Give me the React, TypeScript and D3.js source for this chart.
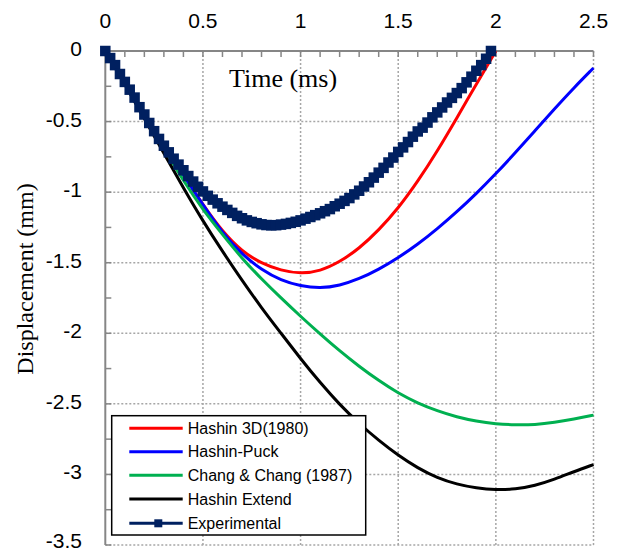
import React from "react";
import * as d3 from "d3";

// ---------- data ----------
const xTicks = [0, 0.5, 1, 1.5, 2, 2.5];
const yTicks = [0, -0.5, -1, -1.5, -2, -2.5, -3, -3.5];

const seriesNames = ["Hashin 3D(1980)", "Hashin-Puck", "Chang & Chang (1987)", "Hashin Extend", "Experimental"];

const modelTime = [0, 0.1, 0.2, 0.3, 0.4, 0.5, 0.6, 0.7, 0.8, 0.9, 1.0, 1.1, 1.2, 1.3, 1.4, 1.5, 1.6, 1.7, 1.8, 1.9, 2.0, 2.1, 2.2, 2.3, 2.4, 2.5];

const hashin3D = [0, -0.22, -0.45, -0.67, -0.88, -1.09, -1.28, -1.42, -1.505, -1.555, -1.578, -1.56, -1.495, -1.4, -1.27, -1.115, -0.925, -0.71, -0.475, -0.235, 0];
const hashinPuck = [0, -0.22, -0.45, -0.67, -0.88, -1.09, -1.29, -1.44, -1.55, -1.625, -1.665, -1.682, -1.662, -1.615, -1.548, -1.465, -1.37, -1.26, -1.14, -1.01, -0.87, -0.72, -0.565, -0.41, -0.26, -0.12];
const changChang = [0, -0.22, -0.455, -0.69, -0.92, -1.125, -1.3, -1.47, -1.615, -1.75, -1.88, -2.005, -2.125, -2.235, -2.335, -2.425, -2.495, -2.55, -2.593, -2.623, -2.642, -2.65, -2.648, -2.632, -2.608, -2.58];
const hashinExtend = [0, -0.235, -0.48, -0.725, -0.97, -1.205, -1.42, -1.625, -1.82, -2.0, -2.18, -2.35, -2.505, -2.64, -2.76, -2.865, -2.955, -3.025, -3.07, -3.097, -3.11, -3.105, -3.08, -3.035, -2.98, -2.93];

const expTime = [
  0, 0.025, 0.05, 0.075, 0.1, 0.125, 0.15, 0.175, 0.2, 0.225,
  0.25, 0.275, 0.3, 0.325, 0.35, 0.375, 0.4, 0.425, 0.45, 0.475,
  0.5, 0.525, 0.55, 0.575, 0.6, 0.625, 0.65, 0.675, 0.7, 0.725,
  0.75, 0.775, 0.8, 0.825, 0.85, 0.875, 0.9, 0.925, 0.95, 0.975,
  1.0, 1.025, 1.05, 1.075, 1.1, 1.125, 1.15, 1.175, 1.2, 1.225,
  1.25, 1.275, 1.3, 1.325, 1.35, 1.375, 1.4, 1.425, 1.45, 1.475,
  1.5, 1.525, 1.55, 1.575, 1.6, 1.625, 1.65, 1.675, 1.7, 1.725,
  1.75, 1.775, 1.8, 1.825, 1.85, 1.875, 1.9, 1.925, 1.95, 1.975,
];
const expDisp = [
  0, -0.05, -0.1, -0.163, -0.219, -0.274, -0.33, -0.398, -0.45, -0.51,
  -0.568, -0.623, -0.671, -0.718, -0.763, -0.805, -0.845, -0.886, -0.925, -0.962,
  -0.995, -1.026, -1.053, -1.079, -1.103, -1.126, -1.147, -1.168, -1.185, -1.2,
  -1.211, -1.22, -1.228, -1.233, -1.235, -1.234, -1.23, -1.225, -1.218, -1.21,
  -1.2, -1.188, -1.176, -1.163, -1.15, -1.135, -1.12, -1.1, -1.082, -1.062,
  -1.042, -1.016, -0.99, -0.96, -0.93, -0.897, -0.862, -0.828, -0.79, -0.755,
  -0.715, -0.683, -0.645, -0.607, -0.57, -0.543, -0.507, -0.47, -0.435, -0.4,
  -0.365, -0.332, -0.298, -0.263, -0.222, -0.182, -0.14, -0.1, -0.055, 0,
];

// ---------- layout ----------
const W = 618;
const H = 551;
const X0 = 105.3, X1 = 593.5, Y0 = 51, Y1 = 545;
const colors = ["#FF0000", "#0000FF", "#00B050", "#000000", "#002060"];

export default function App() {
  const x = d3.scaleLinear().domain([0, 2.5]).range([X0, X1]);
  const y = d3.scaleLinear().domain([0, -3.5]).range([Y0, Y1]);

  const line = d3
    .line<[number, number]>()
    .x((d) => x(d[0]))
    .y((d) => y(d[1]))
    .curve(d3.curveBasis);
  const lineLin = d3
    .line<[number, number]>()
    .x((d) => x(d[0]))
    .y((d) => y(d[1]));

  const models = [hashin3D, hashinPuck, changChang, hashinExtend].map((vals) =>
    vals.map((v, i) => [modelTime[i], v] as [number, number])
  );
  const exp = expDisp.map((v, i) => [expTime[i], v] as [number, number]);

  const minorX = d3.range(0, 26).map((i) => i / 10);
  const minorY = d3.range(0, 15).map((i) => -i * 0.25);

  const gridColor = "#a6a6a6";
  const axisColor = "#868686";
  const ms = 10.5;

  const legX = 111.7, legY = 415.7, legW = 254, legH = 119.3;
  const legRowY = [428.3, 451.7, 475.3, 499, 523.3];
  const sans = "Liberation Sans, Arial, sans-serif";
  const serif = "Liberation Serif, Times New Roman, serif";

  return (
    <svg width={W} height={H} style={{ position: "absolute", left: 0, top: 0, background: "#fff" }}>
      {/* gridlines */}
      {xTicks.filter((t) => t > 0).map((t) => (
        <line key={"gx" + t} x1={x(t)} x2={x(t)} y1={Y0} y2={Y1} stroke={gridColor} strokeWidth={1.5} strokeDasharray="2,2" />
      ))}
      {yTicks.filter((t) => t < 0).map((t) => (
        <line key={"gy" + t} x1={X0} x2={X1} y1={y(t)} y2={y(t)} stroke={gridColor} strokeWidth={1.5} strokeDasharray="2,2" />
      ))}
      {/* minor ticks */}
      {minorX.map((t) => (
        <line key={"mx" + t} x1={x(t)} x2={x(t)} y1={Y0} y2={Y0 + 6} stroke={axisColor} strokeWidth={1.5} />
      ))}
      {minorY.map((t) => (
        <line key={"my" + t} x1={X0} x2={X0 + 6} y1={y(t)} y2={y(t)} stroke={axisColor} strokeWidth={1.5} />
      ))}
      {/* axes */}
      <line x1={X0} x2={X1} y1={Y0} y2={Y0} stroke={axisColor} strokeWidth={2} />
      <line x1={X0} x2={X0} y1={Y0} y2={Y1} stroke={axisColor} strokeWidth={2} />

      {/* tick labels */}
      {xTicks.map((t) => (
        <text key={"tx" + t} x={x(t)} y={28} textAnchor="middle" fontFamily={sans} fontSize={21} fill="#000">
          {String(t)}
        </text>
      ))}
      {yTicks.map((t) => (
        <text key={"ty" + t} x={82} y={Math.min(y(t) + 5, 548)} textAnchor="end" fontFamily={sans} fontSize={21} fill="#000">
          {String(t)}
        </text>
      ))}

      {/* axis titles */}
      <text x={229} y={87} fontFamily={serif} fontSize={26} fill="#000">
        Time (ms)
      </text>
      <text transform="translate(33,279) rotate(-90)" textAnchor="middle" fontFamily={serif} fontSize={24} fill="#000">
        Displacement (mm)
      </text>

      {/* model curves */}
      {models.map((d, i) => (
        <path key={"m" + i} d={line(d) || ""} fill="none" stroke={colors[i]} strokeWidth={3} />
      ))}

      {/* experimental */}
      <path d={lineLin(exp) || ""} fill="none" stroke={colors[4]} strokeWidth={3} />
      {exp.map((d, i) => (
        <rect key={"e" + i} x={x(d[0]) - ms / 2} y={y(d[1]) - ms / 2} width={ms} height={ms} fill={colors[4]} />
      ))}

      {/* legend */}
      <rect x={legX} y={legY} width={legW} height={legH} fill="#fff" stroke="#000" strokeWidth={1.5} />
      {seriesNames.map((name, i) => (
        <g key={"l" + i}>
          <line x1={129.3} x2={182.7} y1={legRowY[i]} y2={legRowY[i]} stroke={colors[i]} strokeWidth={3} />
          {i === 4 && <rect x={158.3 - 4} y={legRowY[i] - 4} width={8} height={8} fill={colors[4]} />}
          <text x={187.7} y={legRowY[i]} dy="0.35em" fontFamily={sans} fontSize={16} fill="#000">
            {name}
          </text>
        </g>
      ))}
    </svg>
  );
}
